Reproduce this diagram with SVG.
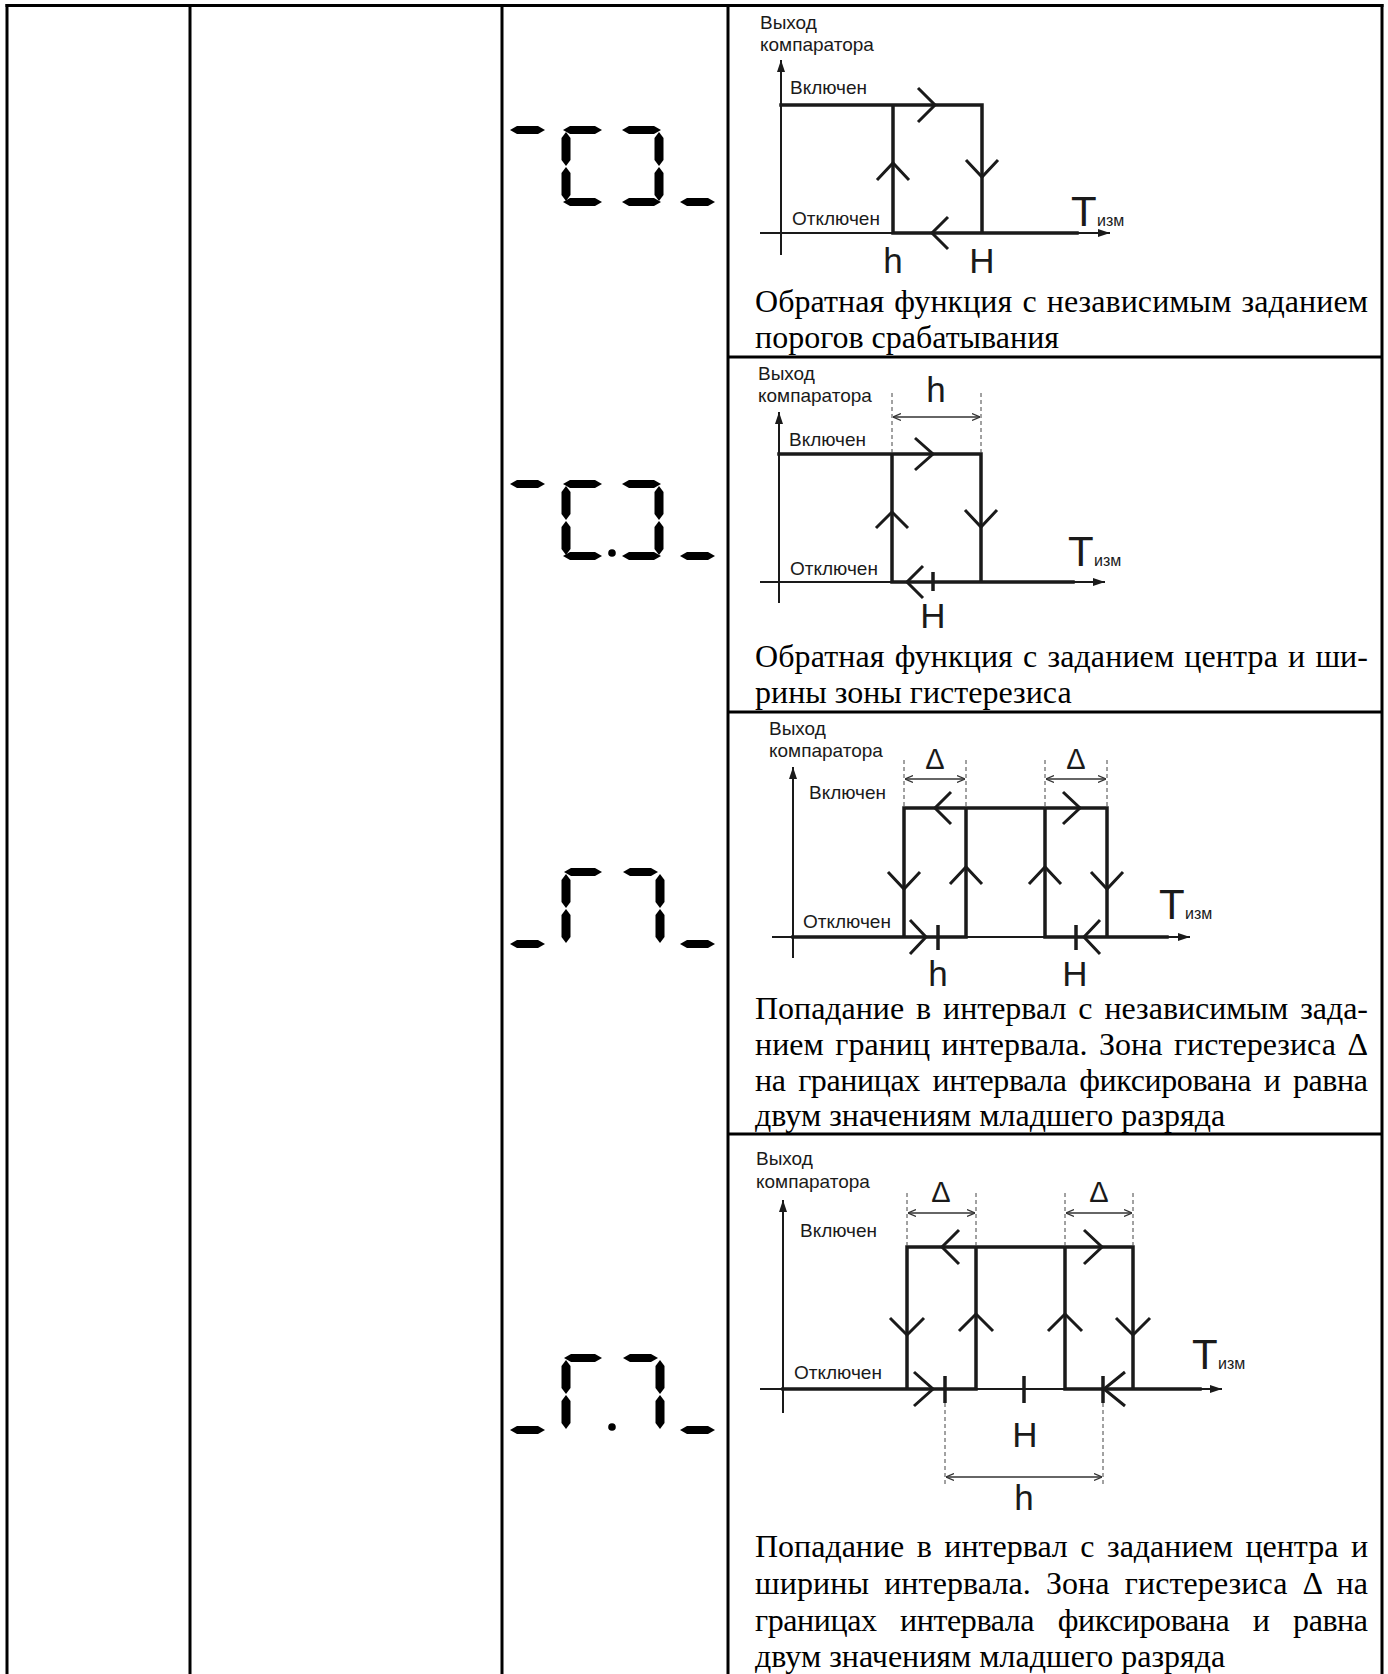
<svg xmlns="http://www.w3.org/2000/svg" width="1388" height="1674" viewBox="0 0 1388 1674">
<style>
.tbl{stroke:#000;stroke-width:3;fill:none}
.ax{stroke:#1a1a1a;stroke-width:2;fill:none}
.th{stroke:#1a1a1a;stroke-width:3.5;fill:none;stroke-linecap:square}
.chev{stroke:#1a1a1a;stroke-width:3;fill:none}
.tick{stroke:#1a1a1a;stroke-width:3.5}
.dsh{stroke:#444;stroke-width:1;stroke-dasharray:4 3;fill:none}
.dim{stroke:#333;stroke-width:1.3;fill:none}
.seg{fill:#000}
.lbl{font-family:"Liberation Sans",Arial,sans-serif;font-size:19px;fill:#1a1a1a}
.big{font-family:"Liberation Sans",Arial,sans-serif;font-size:35px;fill:#1a1a1a;text-anchor:middle}
.T{font-family:"Liberation Sans",Arial,sans-serif;font-size:42px;fill:#1a1a1a}
.sub{font-family:"Liberation Sans",Arial,sans-serif;font-size:16px;fill:#1a1a1a}
.dl{font-family:"Liberation Sans",Arial,sans-serif;font-size:29px;fill:#1a1a1a;text-anchor:middle}
.cap{font-family:"Liberation Serif","Times New Roman",serif;font-size:32px;fill:#000}
</style>
<defs>
<marker id="ah" viewBox="0 0 12 8" refX="12" refY="4" markerWidth="12" markerHeight="8" markerUnits="userSpaceOnUse" orient="auto"><path d="M0,0 L12,4 L0,8 z" fill="#1a1a1a"/></marker>
<marker id="oh" viewBox="0 0 8 8" refX="8" refY="4" markerWidth="8" markerHeight="8" markerUnits="userSpaceOnUse" orient="auto-start-reverse"><path d="M0,0.5 L8,4 L0,7.5" fill="none" stroke="#333" stroke-width="1.2"/></marker>
<g id="dispA">
<polygon class="seg" points="510,130 517,126 538,126 545,130 538,134 517,134"/>
<polygon class="seg" points="563,130 570,126 595,126 602,130 595,134 570,134"/>
<polygon class="seg" points="566,132 570.5,138 570.5,160 566,166 561.5,160 561.5,138"/>
<polygon class="seg" points="566,167 570.5,173 570.5,195 566,201 561.5,195 561.5,173"/>
<polygon class="seg" points="563,202 570,198 595,198 602,202 595,206 570,206"/>
<polygon class="seg" points="622,130 629,126 654,126 661,130 654,134 629,134"/>
<polygon class="seg" points="659,132 663.5,138 663.5,160 659,166 654.5,160 654.5,138"/>
<polygon class="seg" points="659,167 663.5,173 663.5,195 659,201 654.5,195 654.5,173"/>
<polygon class="seg" points="622,202 629,198 654,198 661,202 654,206 629,206"/>
<polygon class="seg" points="680,202 687,198 708,198 715,202 708,206 687,206"/>
</g>
<g id="dispB">
<polygon class="seg" points="510,202 517,198 538,198 545,202 538,206 517,206"/>
<polygon class="seg" points="564,130 571,126 595,126 602,130 595,134 571,134"/>
<polygon class="seg" points="566,132 570.5,138 570.5,160 566,166 561.5,160 561.5,138"/>
<polygon class="seg" points="566,167 570.5,173 570.5,195 566,201 561.5,195 561.5,173"/>
<polygon class="seg" points="623,130 630,126 651,126 658,130 651,134 630,134"/>
<polygon class="seg" points="660,132 664.5,138 664.5,160 660,166 655.5,160 655.5,138"/>
<polygon class="seg" points="660,167 664.5,173 664.5,195 660,201 655.5,195 655.5,173"/>
<polygon class="seg" points="680,202 687,198 708,198 715,202 708,206 687,206"/>
</g>
</defs>

<g id="table">
<line class="tbl" x1="5.5" y1="5.5" x2="1383.5" y2="5.5"/>
<line class="tbl" x1="7" y1="4" x2="7" y2="1674"/>
<line class="tbl" x1="190" y1="4" x2="190" y2="1674"/>
<line class="tbl" x1="502" y1="4" x2="502" y2="1674"/>
<line class="tbl" x1="728" y1="4" x2="728" y2="1674"/>
<line class="tbl" x1="1382" y1="4" x2="1382" y2="1674"/>
<line class="tbl" x1="728" y1="357" x2="1382" y2="357"/>
<line class="tbl" x1="728" y1="712" x2="1382" y2="712"/>
<line class="tbl" x1="728" y1="1134" x2="1382" y2="1134"/>
</g>

<g id="row1">
<g id="row1-display"><use href="#dispA"/></g>
<g id="row1-chart">
<line class="ax" x1="781" y1="255" x2="781" y2="60" marker-end="url(#ah)"/>
<line class="ax" x1="760" y1="233" x2="1110" y2="233" marker-end="url(#ah)"/>
<path class="th" d="M781,105 H982 V233 M893,105 V233 M893,233 H1077"/>
<polyline class="chev" points="918,88 935,105 918,122"/>
<polyline class="chev" points="877,180 893,163 909,180"/>
<polyline class="chev" points="966,160 982,177 998,160"/>
<polyline class="chev" points="948,217 932,233 948,249"/>
<text class="lbl" x="760" y="29">Выход</text>
<text class="lbl" x="760" y="51">компаратора</text>
<text class="lbl" x="790" y="94">Включен</text>
<text class="lbl" x="792" y="225">Отключен</text>
<text class="T" x="1071" y="226">T</text>
<text class="sub" x="1097" y="226">изм</text>
<text class="big" x="893" y="273">h</text>
<text class="big" x="982" y="273">H</text>
</g>
<g id="row1-caption">
<text class="cap" x="755" y="312" style="word-spacing:2px" textLength="613" lengthAdjust="spacing">Обратная функция с независимым заданием</text>
<text class="cap" x="755" y="348">порогов срабатывания</text>
</g>
</g>

<g id="row2">
<g id="row2-display"><use href="#dispA" transform="translate(0,354)"/><circle class="seg" cx="612" cy="553" r="3.8"/></g>
<g id="row2-chart">
<line class="ax" x1="779" y1="603" x2="779" y2="412" marker-end="url(#ah)"/>
<line class="ax" x1="760" y1="582" x2="1105" y2="582" marker-end="url(#ah)"/>
<path class="th" d="M779,454 H981 V582 M892,454 V582 M892,582 H1073"/>
<polyline class="chev" points="915,438 933,454 915,470"/>
<polyline class="chev" points="876,528 892,512 908,528"/>
<polyline class="chev" points="965,510 981,527 997,510"/>
<polyline class="chev" points="923,566 907,582 923,598"/>
<line class="tick" x1="933" y1="572" x2="933" y2="591"/>
<line class="dsh" x1="892" y1="393" x2="892" y2="454"/>
<line class="dsh" x1="981" y1="393" x2="981" y2="454"/>
<line class="dim" x1="893" y1="417" x2="980" y2="417" marker-start="url(#oh)" marker-end="url(#oh)"/>
<text class="lbl" x="758" y="380">Выход</text>
<text class="lbl" x="758" y="402">компаратора</text>
<text class="lbl" x="789" y="446">Включен</text>
<text class="lbl" x="790" y="575">Отключен</text>
<text class="T" x="1068" y="566">T</text>
<text class="sub" x="1094" y="566">изм</text>
<text class="big" x="936" y="402">h</text>
<text class="big" x="933" y="628">H</text>
</g>
<g id="row2-caption">
<text class="cap" x="755" y="667" style="word-spacing:2px" textLength="613" lengthAdjust="spacing">Обратная функция с заданием центра и ши-</text>
<text class="cap" x="755" y="703">рины зоны гистерезиса</text>
</g>
</g>

<g id="row3">
<g id="row3-display"><use href="#dispB" transform="translate(0,742)"/></g>
<g id="row3-chart">
<line class="ax" x1="793" y1="958" x2="793" y2="767" marker-end="url(#ah)"/>
<line class="ax" x1="772" y1="937" x2="1190" y2="937" marker-end="url(#ah)"/>
<path class="th" d="M793,937 H966 M904,937 V808 H1107 V937 M966,808 V937 M1045,808 V937 M1045,937 H1167"/>
<polyline class="chev" points="951,792 935,808 951,824"/>
<polyline class="chev" points="1063,792 1080,808 1063,824"/>
<polyline class="chev" points="888,872 904,889 920,872"/>
<polyline class="chev" points="950,884 966,867 982,884"/>
<polyline class="chev" points="1029,884 1045,867 1061,884"/>
<polyline class="chev" points="1091,872 1107,889 1123,872"/>
<polyline class="chev" points="910,920 926,937 910,954"/>
<polyline class="chev" points="1100,920 1084,937 1100,954"/>
<line class="tick" x1="938" y1="925" x2="938" y2="950"/>
<line class="tick" x1="1076" y1="925" x2="1076" y2="950"/>
<line class="dsh" x1="904" y1="760" x2="904" y2="808"/>
<line class="dsh" x1="966" y1="760" x2="966" y2="808"/>
<line class="dsh" x1="1045" y1="760" x2="1045" y2="808"/>
<line class="dsh" x1="1107" y1="760" x2="1107" y2="808"/>
<line class="dim" x1="905" y1="779" x2="965" y2="779" marker-start="url(#oh)" marker-end="url(#oh)"/>
<line class="dim" x1="1046" y1="779" x2="1106" y2="779" marker-start="url(#oh)" marker-end="url(#oh)"/>
<text class="dl" x="935" y="769">Δ</text>
<text class="dl" x="1076" y="769">Δ</text>
<text class="lbl" x="769" y="735">Выход</text>
<text class="lbl" x="769" y="757">компаратора</text>
<text class="lbl" x="809" y="799">Включен</text>
<text class="lbl" x="803" y="928">Отключен</text>
<text class="T" x="1159" y="919">T</text>
<text class="sub" x="1185" y="919">изм</text>
<text class="big" x="938" y="986">h</text>
<text class="big" x="1075" y="986">H</text>
</g>
<g id="row3-caption">
<text class="cap" x="755" y="1019" style="word-spacing:4px" textLength="613" lengthAdjust="spacing">Попадание в интервал с независимым зада-</text>
<text class="cap" x="755" y="1055" style="word-spacing:3.5px" textLength="613" lengthAdjust="spacing">нием границ интервала. Зона гистерезиса Δ</text>
<text class="cap" x="755" y="1091" style="word-spacing:5px" textLength="613" lengthAdjust="spacing">на границах интервала фиксирована и равна</text>
<text class="cap" x="755" y="1126">двум значениям младшего разряда</text>
</g>
</g>

<g id="row4">
<g id="row4-display"><use href="#dispB" transform="translate(0,1228)"/><circle class="seg" cx="612" cy="1427" r="3.8"/></g>
<g id="row4-chart">
<line class="ax" x1="783" y1="1413" x2="783" y2="1200" marker-end="url(#ah)"/>
<line class="ax" x1="760" y1="1389" x2="1222" y2="1389" marker-end="url(#ah)"/>
<path class="th" d="M783,1389 H976 M907,1389 V1247 H1133 V1389 M976,1247 V1389 M1065,1247 V1389 M1065,1389 H1200"/>
<polyline class="chev" points="959,1230 942,1247 959,1264"/>
<polyline class="chev" points="1084,1230 1102,1247 1084,1264"/>
<polyline class="chev" points="890,1318 907,1335 924,1318"/>
<polyline class="chev" points="959,1331 976,1314 993,1331"/>
<polyline class="chev" points="1048,1331 1065,1314 1082,1331"/>
<polyline class="chev" points="1116,1318 1133,1335 1150,1318"/>
<polyline class="chev" points="914,1372 933,1389 914,1406"/>
<polyline class="chev" points="1125,1372 1104,1389 1125,1406"/>
<line class="tick" x1="945" y1="1376" x2="945" y2="1403"/>
<line class="tick" x1="1024" y1="1376" x2="1024" y2="1403"/>
<line class="tick" x1="1103" y1="1376" x2="1103" y2="1403"/>
<line class="dsh" x1="907" y1="1193" x2="907" y2="1247"/>
<line class="dsh" x1="976" y1="1193" x2="976" y2="1247"/>
<line class="dsh" x1="1065" y1="1193" x2="1065" y2="1247"/>
<line class="dsh" x1="1133" y1="1193" x2="1133" y2="1247"/>
<line class="dsh" x1="945" y1="1403" x2="945" y2="1484"/>
<line class="dsh" x1="1103" y1="1403" x2="1103" y2="1484"/>
<line class="dim" x1="908" y1="1213" x2="975" y2="1213" marker-start="url(#oh)" marker-end="url(#oh)"/>
<line class="dim" x1="1066" y1="1213" x2="1132" y2="1213" marker-start="url(#oh)" marker-end="url(#oh)"/>
<line class="dim" x1="946" y1="1477" x2="1102" y2="1477" marker-start="url(#oh)" marker-end="url(#oh)"/>
<text class="dl" x="941" y="1202">Δ</text>
<text class="dl" x="1099" y="1202">Δ</text>
<text class="lbl" x="756" y="1165">Выход</text>
<text class="lbl" x="756" y="1188">компаратора</text>
<text class="lbl" x="800" y="1237">Включен</text>
<text class="lbl" x="794" y="1379">Отключен</text>
<text class="T" x="1192" y="1369">T</text>
<text class="sub" x="1218" y="1369">изм</text>
<text class="big" x="1025" y="1447">H</text>
<text class="big" x="1024" y="1510">h</text>
</g>
<g id="row4-caption">
<text class="cap" x="755" y="1557" style="word-spacing:4.5px" textLength="613" lengthAdjust="spacing">Попадание в интервал с заданием центра и</text>
<text class="cap" x="755" y="1594" style="word-spacing:7px" textLength="613" lengthAdjust="spacing">ширины интервала. Зона гистерезиса Δ на</text>
<text class="cap" x="755" y="1631" style="word-spacing:16px" textLength="613" lengthAdjust="spacing">границах интервала фиксирована и равна</text>
<text class="cap" x="755" y="1667">двум значениям младшего разряда</text>
</g>
</g>
</svg>
